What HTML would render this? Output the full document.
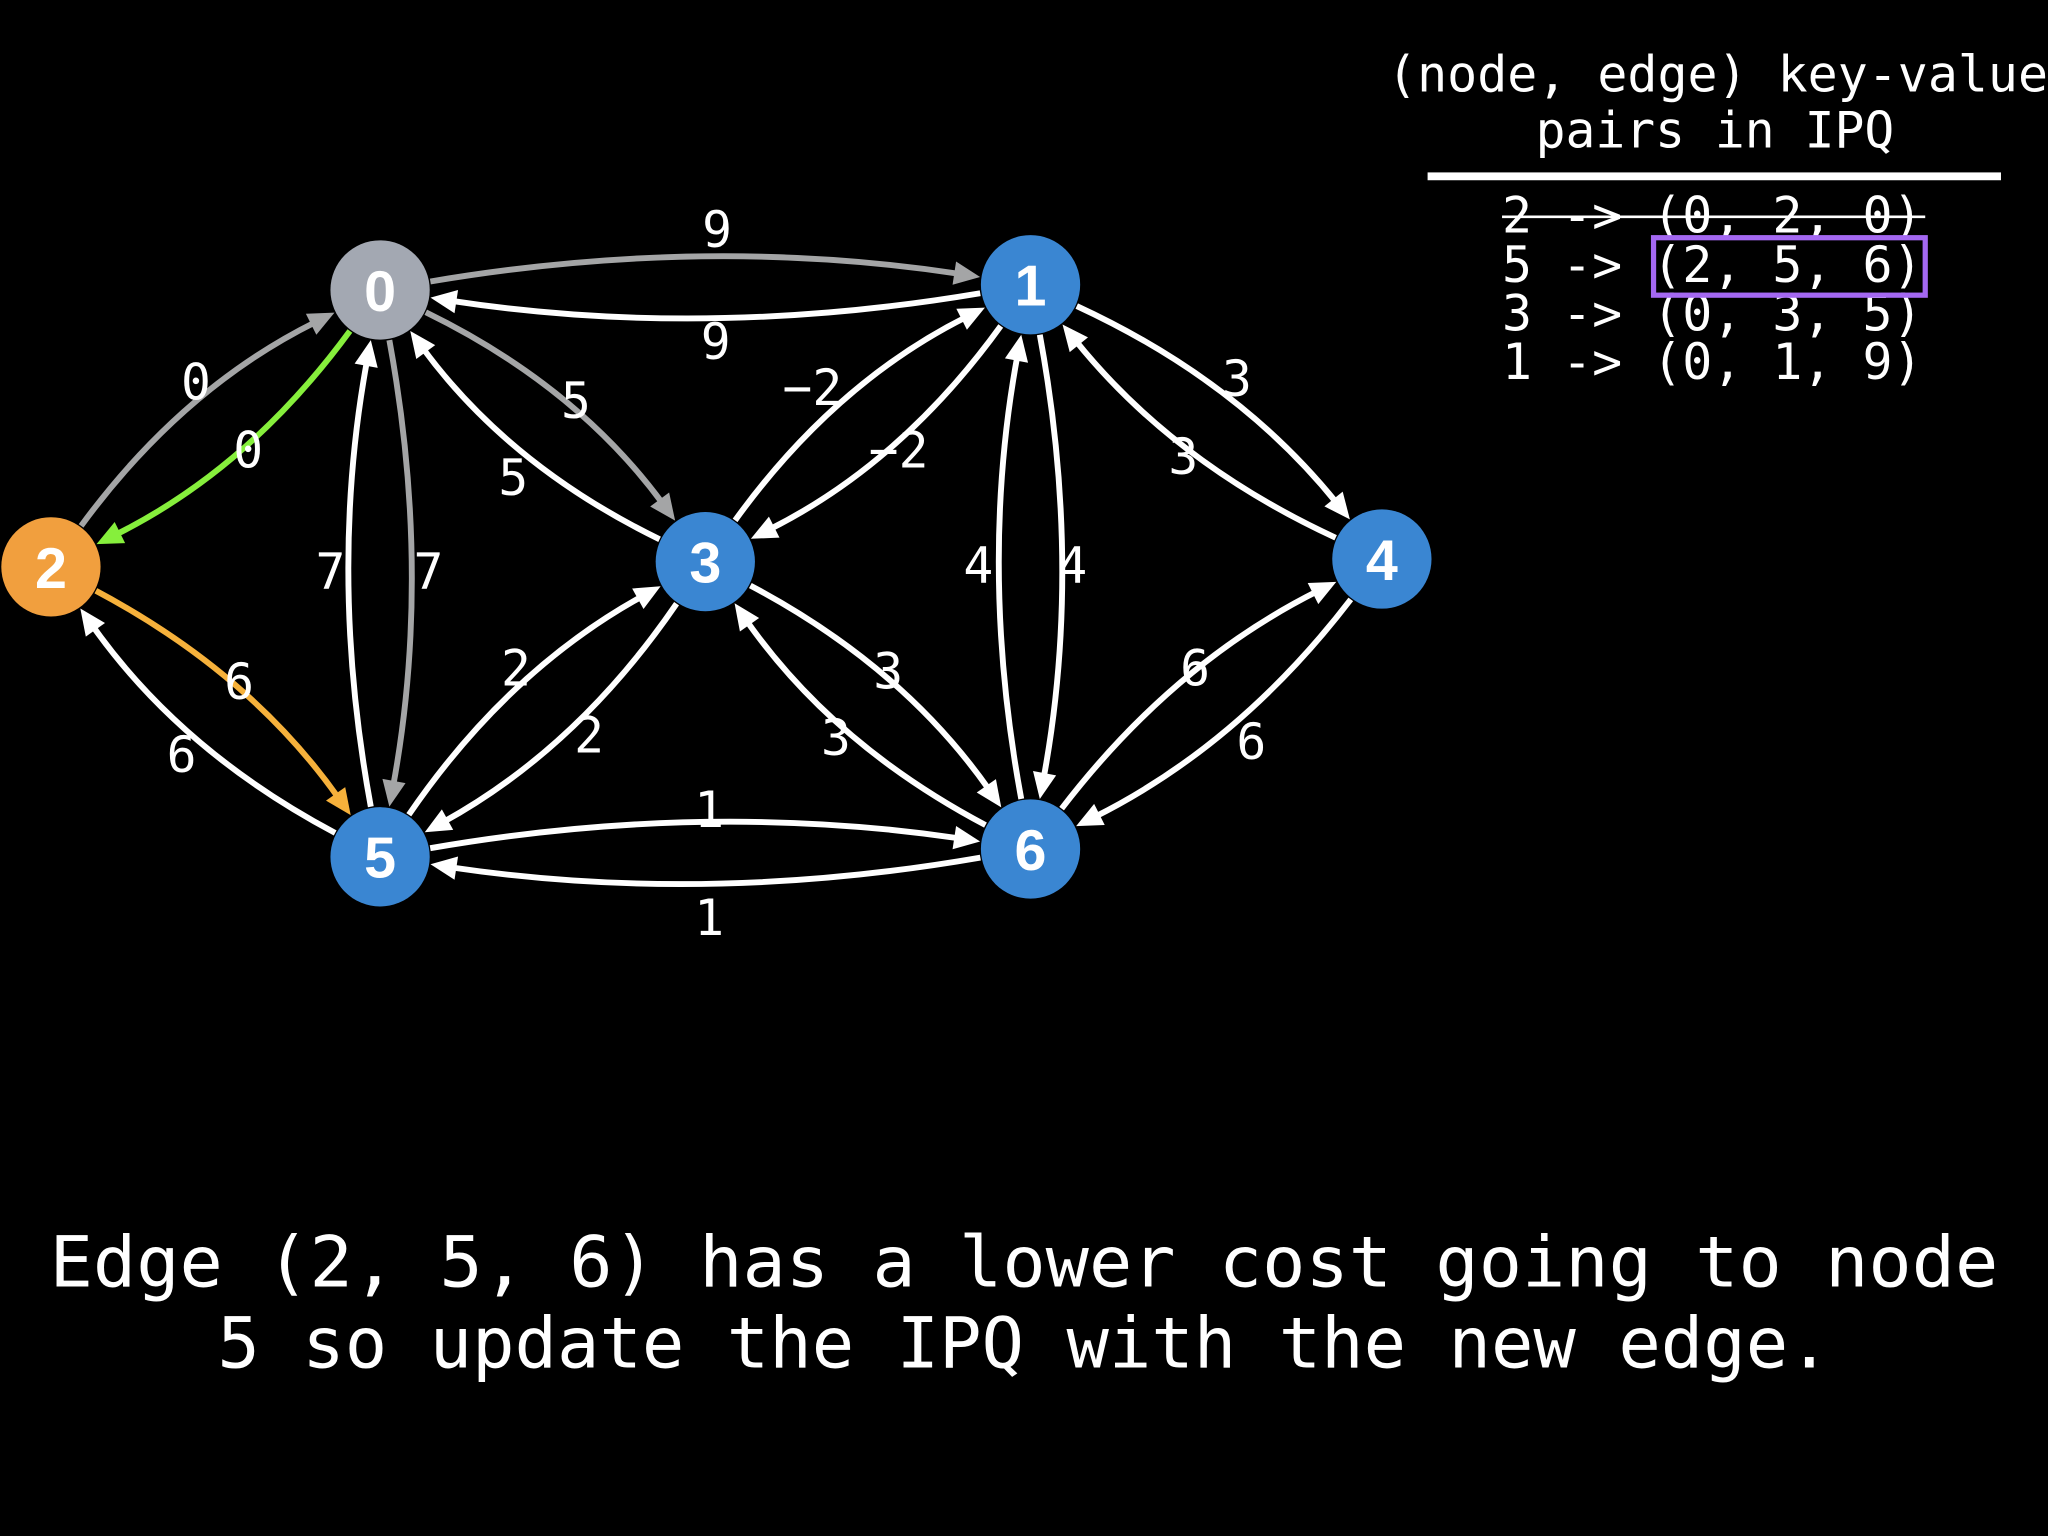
<!DOCTYPE html>
<html><head><meta charset="utf-8"><style>
html,body{margin:0;padding:0;background:#000;}
svg{display:block;}
.lbl{font-family:"DejaVu Sans Mono","Liberation Mono",monospace;font-size:38px;fill:#fff;text-anchor:middle;}
.nd{font-family:"Liberation Sans",Arial,sans-serif;font-weight:bold;font-size:44px;fill:#fff;text-anchor:middle;}
.mono{font-family:"DejaVu Sans Mono","Liberation Mono",monospace;fill:#fff;}
</style></head><body>
<svg id="s" width="2048" height="1536" viewBox="0 0 1568 1176" xmlns="http://www.w3.org/2000/svg">
<rect width="1568" height="1176" fill="#000"/>
<g id="edges"></g>
<g id="nodes">
<circle cx="291" cy="222" r="38" fill="#a3a8b2"/>
<circle cx="789" cy="218" r="38" fill="#3a86d2"/>
<circle cx="39" cy="434" r="38" fill="#f19f3e"/>
<circle cx="540" cy="430" r="38" fill="#3a86d2"/>
<circle cx="1058" cy="428" r="38" fill="#3a86d2"/>
<circle cx="291" cy="656" r="38" fill="#3a86d2"/>
<circle cx="789" cy="650" r="38" fill="#3a86d2"/>
<text class="nd" x="291" y="238">0</text>
<text class="nd" x="789" y="234">1</text>
<text class="nd" x="39" y="450">2</text>
<text class="nd" x="540" y="446">3</text>
<text class="nd" x="1058" y="444">4</text>
<text class="nd" x="291" y="672">5</text>
<text class="nd" x="789" y="666">6</text>
</g>
<g>
<text class="lbl" x="549" y="189">9</text>
<text class="lbl" x="548" y="275">9</text>
<text class="lbl" x="150" y="306">0</text>
<text class="lbl" x="190" y="358">0</text>
<text class="lbl" x="441" y="320">5</text>
<text class="lbl" x="393" y="379">5</text>
<text class="lbl" x="253" y="451">7</text>
<text class="lbl" x="328" y="451">7</text>
<text class="lbl" x="183" y="535">6</text>
<text class="lbl" x="139" y="591">6</text>
<text class="lbl" x="395" y="525">2</text>
<text class="lbl" x="451" y="576">2</text>
<text class="lbl" x="622" y="310">−2</text>
<text class="lbl" x="688" y="358">−2</text>
<text class="lbl" x="947" y="303">3</text>
<text class="lbl" x="906" y="363">3</text>
<text class="lbl" x="749" y="446">4</text>
<text class="lbl" x="821" y="446">4</text>
<text class="lbl" x="680" y="527">3</text>
<text class="lbl" x="640" y="578">3</text>
<text class="lbl" x="915" y="525">6</text>
<text class="lbl" x="958" y="581">6</text>
<text class="lbl" x="543" y="633">1</text>
<text class="lbl" x="543" y="716">1</text>
</g>
<g>
<text class="mono" x="1062" y="70" font-size="38" textLength="506" lengthAdjust="spacingAndGlyphs">(node, edge) key-value</text>
<text class="mono" x="1313" y="113" font-size="38" text-anchor="middle">pairs in IPQ</text>
<rect x="1093" y="132" width="439" height="6" fill="#fff"/>
<text class="mono" x="1150" y="178" font-size="38" textLength="322" lengthAdjust="spacingAndGlyphs">2 -&gt; (0, 2, 0)</text>
<line x1="1150" y1="166" x2="1474" y2="166" stroke="#fff" stroke-width="2"/>
<text class="mono" x="1150" y="216" font-size="38" textLength="322" lengthAdjust="spacingAndGlyphs">5 -&gt; (2, 5, 6)</text>
<text class="mono" x="1150" y="253" font-size="38" textLength="322" lengthAdjust="spacingAndGlyphs">3 -&gt; (0, 3, 5)</text>
<text class="mono" x="1150" y="290" font-size="38" textLength="322" lengthAdjust="spacingAndGlyphs">1 -&gt; (0, 1, 9)</text>
<rect x="1266" y="182" width="208" height="44" fill="none" stroke="#a468f2" stroke-width="4"/>
</g>
<g>
<text class="mono" x="38" y="985" font-size="54" textLength="1492" lengthAdjust="spacingAndGlyphs">Edge (2, 5, 6) has a lower cost going to node</text>
<text class="mono" x="784" y="1047" font-size="54" text-anchor="middle">5 so update the IPQ with the new edge.</text>
</g>
</svg>
<script>
(function(){
var N={0:[291,222],1:[789,218],2:[39,434],3:[540,430],4:[1058,428],5:[291,656],6:[789,650]};
var G='#a4a5a6',W='#ffffff',GR='#86ef3c',OR='#f6b13b';
var E=[[0,1,G],[1,0,W],[2,0,G],[0,2,GR],[0,3,G],[3,0,W],[0,5,G],[5,0,W],[2,5,OR],[5,2,W],
[5,3,W],[3,5,W],[3,1,W],[1,3,W],[1,4,W],[4,1,W],[1,6,W],[6,1,W],[3,6,W],[6,3,W],[6,4,W],[4,6,W],[5,6,W],[6,5,W]];
var R=39,AL=20,AW=9,S=20,out='';
E.forEach(function(e){
 var a=N[e[0]],b=N[e[1]],dx=b[0]-a[0],dy=b[1]-a[1],L=Math.hypot(dx,dy);
 var nx=dy/L,ny=-dx/L;
 var c=[(a[0]+b[0])/2+nx*2*S,(a[1]+b[1])/2+ny*2*S];
 function u(p,q){var x=q[0]-p[0],y=q[1]-p[1],l=Math.hypot(x,y);return [x/l,y/l];}
 var ua=u(a,c),ub=u(b,c);
 var p0=[a[0]+ua[0]*R,a[1]+ua[1]*R];
 var tip=[b[0]+ub[0]*R,b[1]+ub[1]*R];
 var p1=[tip[0]+ub[0]*AL*0.8,tip[1]+ub[1]*AL*0.8];
 out+='<path d="M'+p0[0].toFixed(1)+','+p0[1].toFixed(1)+' Q'+c[0].toFixed(1)+','+c[1].toFixed(1)+' '+p1[0].toFixed(1)+','+p1[1].toFixed(1)+'" fill="none" stroke="'+e[2]+'" stroke-width="4.5"/>';
 var bx=tip[0]+ub[0]*AL,by=tip[1]+ub[1]*AL,px=-ub[1],py=ub[0];
 out+='<polygon points="'+tip[0].toFixed(1)+','+tip[1].toFixed(1)+' '+(bx+px*AW).toFixed(1)+','+(by+py*AW).toFixed(1)+' '+(bx-px*AW).toFixed(1)+','+(by-py*AW).toFixed(1)+'" fill="'+e[2]+'"/>';
});
document.getElementById('edges').innerHTML=out;
})();
</script>
</body></html>
